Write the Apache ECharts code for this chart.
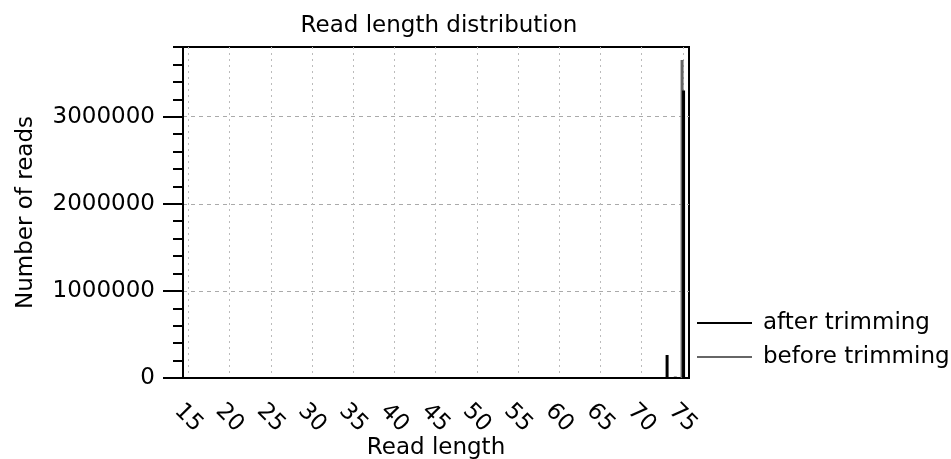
<!DOCTYPE html>
<html>
<head>
<meta charset="utf-8">
<script src="https://cdn.jsdelivr.net/npm/echarts@6/dist/echarts.min.js"></script>
<style>
html,body{margin:0;padding:0;background:#fff;}
#chart{width:951px;height:459px;}
</style>
</head>
<body>
<div id="chart"></div>
<script>
// Data
var readLengths = [73, 74, 75];
var afterTrimming = [264000, 15000, 3300000];
var beforeLengths = [75];
var beforeTrimming = [3650000];
var xTickValues = [15, 20, 25, 30, 35, 40, 45, 50, 55, 60, 65, 70, 75];
var yTickValues = [0, 1000000, 2000000, 3000000];
var seriesNames = ['after trimming', 'before trimming'];

var FONT = 'DejaVu Sans';
var FS = 23;
var chart = echarts.init(document.getElementById('chart'));

var afterData = readLengths.map(function (x, i) { return [x, afterTrimming[i]]; });
var beforeData = beforeLengths.map(function (x, i) { return [x, beforeTrimming[i]]; });

chart.setOption({
  animation: false,
  backgroundColor: '#fff',
  textStyle: { fontFamily: FONT, color: '#000' },
  title: {
    text: 'Read length distribution',
    left: 434,
    textAlign: 'center',
    top: 10,
    textStyle: { fontFamily: FONT, fontSize: FS, fontWeight: 'normal', color: '#000' }
  },
  legend: {
    orient: 'vertical',
    left: 697,
    top: 311,
    padding: 0,
    selectedMode: false,
    itemWidth: 55,
    itemHeight: 2,
    itemGap: 10,
    textStyle: { fontFamily: FONT, fontSize: FS, color: '#000', lineHeight: 24, padding: [0, 0, 0, 6] },
    data: [
      { name: seriesNames[0], icon: 'rect', itemStyle: { color: '#000' } },
      { name: seriesNames[1], icon: 'rect', itemStyle: { color: '#666' } }
    ]
  },
  grid: {
    left: 183, right: 262, top: 47, bottom: 81,
    containLabel: false,
    outerBoundsMode: 'none',
    show: true, borderColor: '#000', borderWidth: 2, backgroundColor: 'transparent'
  },
  xAxis: {
    type: 'value',
    min: 14.35,
    max: 75.75,
    name: 'Read length',
    nameLocation: 'middle',
    nameGap: 59,
    nameMoveOverlap: false,
    nameTextStyle: { fontFamily: FONT, fontSize: FS, color: '#000', verticalAlign: 'top' },
    axisLine: { show: true, onZero: false, lineStyle: { color: '#000', width: 2 } },
    axisTick: { show: false, customValues: xTickValues },
    axisLabel: {
      customValues: xTickValues,
      rotate: -45,
      align: 'center',
      verticalAlign: 'middle',
      margin: 40,
      fontFamily: FONT, fontSize: FS, color: '#000'
    },
    splitLine: { show: true, lineStyle: { color: '#bbb', type: [2, 4], width: 1 } }
  },
  yAxis: [
    {
      type: 'value',
      min: 0,
      max: 3800000,
      interval: 1000000,
      name: 'Number of reads',
      nameLocation: 'middle',
      nameGap: 145,
      nameMoveOverlap: false,
      nameTextStyle: { fontFamily: FONT, fontSize: FS, color: '#000' },
      axisLine: { show: true, lineStyle: { color: '#000', width: 2 } },
      axisTick: { show: true, inside: false, length: 20, customValues: yTickValues, lineStyle: { color: '#000', width: 2 } },
      axisLabel: {
        customValues: yTickValues,
        margin: 28,
        fontFamily: FONT, fontSize: FS, color: '#000',
        formatter: function (v) { return String(v); }
      },
      splitLine: { show: true, lineStyle: { color: '#aaa', type: [4, 4], width: 1 } }
    },
    {
      type: 'value',
      position: 'left',
      min: 0,
      max: 3800000,
      interval: 200000,
      axisLine: { show: false },
      axisTick: { show: true, inside: false, length: 10, lineStyle: { color: '#000', width: 2 } },
      axisLabel: { show: false },
      splitLine: { show: false }
    }
  ],
  series: [
    {
      name: seriesNames[1],
      type: 'bar',
      yAxisIndex: 0,
      barWidth: 3,
      barGap: '-50%',
      itemStyle: { color: '#666' },
      data: beforeData
    },
    {
      name: seriesNames[0],
      type: 'bar',
      yAxisIndex: 0,
      barWidth: 3,
      barGap: '-50%',
      itemStyle: { color: '#000' },
      data: afterData
    }
  ]
});
</script>
</body>
</html>
